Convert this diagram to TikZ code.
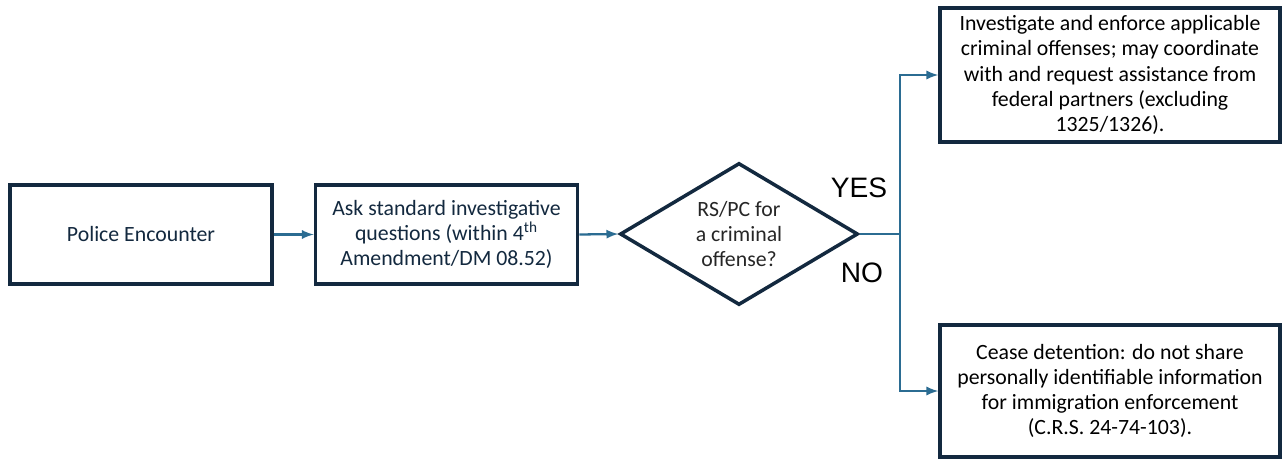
\documentclass[tikz,border=0pt]{standalone}
\usepackage{fontspec}
\setmainfont{Carlito}
\newfontfamily\labelfont{Liberation Sans}
\usepackage{xcolor}
\definecolor{navy}{HTML}{13293F}
\definecolor{flowblue}{HTML}{2B6C92}
\usetikzlibrary{arrows, shapes.geometric}

\begin{document}
\begin{tikzpicture}[every node/.style={font=\fontsize{12.4}{14.3}\selectfont, align=center},
  box/.style={draw=navy, line width=2pt, fill=white, minimum width=5.24cm, minimum height=1.98cm},
  flow/.style={-latex, draw=flowblue, line width=1.3pt}]
  \useasboundingbox (0,0) rectangle (25.64,-9.18);
  % Start box
  \node[box, text=navy] (encounter) at (2.82,-4.69) {Police Encounter};
  % Questions box
  \node[box, text=navy] (questions) at (8.93,-4.69) {Ask standard investigative\\questions (within 4\textsuperscript{th}\\Amendment/DM 08.52)};
  % Decision diamond
  \node[diamond, draw=navy, line width=2pt, inner sep=0pt, shape aspect=1.68, minimum width=4.76cm, minimum height=2.84cm, text=black!85] (decision) at (14.78,-4.68) {RS/PC for\\a criminal\\offense?};
  % Outcome boxes
  \node[box, minimum width=6.8cm, minimum height=2.68cm] (investigate) at (22.2,-1.5) {Investigate and enforce applicable\\criminal offenses; may coordinate\\with and request assistance from\\federal partners (excluding\\1325/1326).};
  \node[box, minimum width=6.8cm, minimum height=2.64cm] (cease) at (22.2,-7.82) {Cease detention: do not share\\personally identifiable information\\for immigration enforcement\\(C.R.S. 24-74-103).};

  % Branch labels
  \node[font=\labelfont\fontsize{16}{18}\selectfont] (yes) at (17.18,-3.76) {YES};
  \node[font=\labelfont\fontsize{16}{18}\selectfont] (no) at (17.24,-5.46) {NO};

  % Arrows
  \coordinate (split) at (18.0,-4.68);
  \draw[flow] (encounter.east) -- (questions.west);
  \draw[flow] (questions.east) -- (decision.west);
  \draw[draw=flowblue, line width=1.3pt] (decision.east) -- (split);
  \draw[flow] (split) |- (investigate.west);
  \draw[flow] (split) |- (cease.west);
\end{tikzpicture}
\end{document}
